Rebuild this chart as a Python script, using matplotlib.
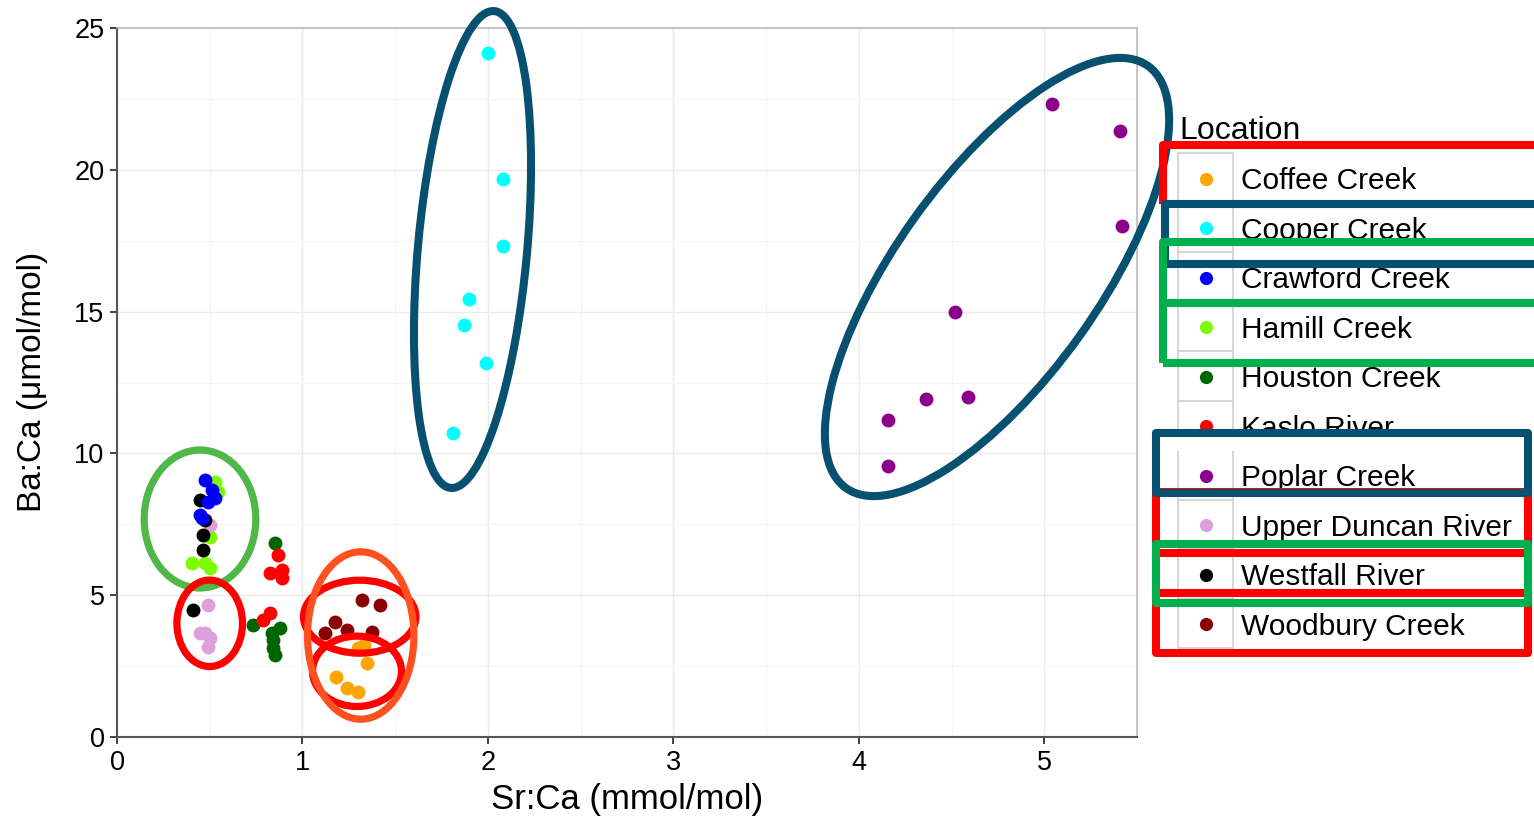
import matplotlib
matplotlib.use('Agg')
import matplotlib.pyplot as plt
from matplotlib.patches import Ellipse, Rectangle
from matplotlib.lines import Line2D
from matplotlib.transforms import IdentityTransform
from matplotlib.ticker import MultipleLocator

plt.rcParams['font.family'] = ['Liberation Sans', 'DejaVu Sans']

# ---------------- data ----------------
locations = ["Coffee Creek", "Cooper Creek", "Crawford Creek", "Hamill Creek",
             "Houston Creek", "Kaslo River", "Poplar Creek", "Upper Duncan River",
             "Westfall River", "Woodbury Creek"]
colors = ["#FFA500", "#00FFFF", "#0000FF", "#7CFC00", "#006400",
          "#FF0000", "#8B008B", "#DDA0DD", "#000000", "#8B0000"]

coffee_x = [1.33, 1.30, 1.35, 1.18, 1.24, 1.30]
coffee_y = [3.24, 3.13, 2.60, 2.13, 1.72, 1.60]
cooper_x = [2.00, 2.08, 2.08, 1.90, 1.87, 1.99, 1.81]
cooper_y = [24.12, 19.68, 17.31, 15.44, 14.53, 13.19, 10.72]
crawford_x = [0.475, 0.511, 0.529, 0.492, 0.448, 0.457]
crawford_y = [9.06, 8.71, 8.42, 8.30, 7.83, 7.71]
hamill_x = [0.529, 0.546, 0.502, 0.403, 0.475, 0.502]
hamill_y = [9.00, 8.65, 7.06, 6.12, 6.12, 5.95]
houston_x = [0.852, 0.735, 0.879, 0.834, 0.843, 0.843, 0.852]
houston_y = [6.83, 3.95, 3.83, 3.66, 3.42, 3.13, 2.89]
kaslo_x = [0.870, 0.888, 0.825, 0.888, 0.825, 0.789]
kaslo_y = [6.42, 5.89, 5.77, 5.60, 4.36, 4.13]
poplar_x = [5.04, 5.41, 5.42, 4.52, 4.36, 4.59, 4.16, 4.16]
poplar_y = [22.32, 21.37, 18.02, 14.98, 11.92, 11.99, 11.18, 9.56]
duncan_x = [0.502, 0.492, 0.475, 0.502, 0.492, 0.448]
duncan_y = [7.48, 4.65, 3.66, 3.48, 3.18, 3.67]
westfall_x = [0.448, 0.475, 0.465, 0.465, 0.412]
westfall_y = [8.36, 7.65, 7.12, 6.59, 4.48]
woodbury_x = [1.320, 1.419, 1.176, 1.122, 1.239, 1.374]
woodbury_y = [4.83, 4.65, 4.07, 3.66, 3.77, 3.71]

series = {
    "Coffee Creek": (coffee_x, coffee_y),
    "Cooper Creek": (cooper_x, cooper_y),
    "Crawford Creek": (crawford_x, crawford_y),
    "Hamill Creek": (hamill_x, hamill_y),
    "Houston Creek": (houston_x, houston_y),
    "Kaslo River": (kaslo_x, kaslo_y),
    "Poplar Creek": (poplar_x, poplar_y),
    "Upper Duncan River": (duncan_x, duncan_y),
    "Westfall River": (westfall_x, westfall_y),
    "Woodbury Creek": (woodbury_x, woodbury_y),
}
draw_order = ["Coffee Creek", "Cooper Creek", "Hamill Creek", "Upper Duncan River",
              "Westfall River", "Crawford Creek", "Houston Creek", "Kaslo River",
              "Woodbury Creek", "Poplar Creek"]

x_ticks = [0, 1, 2, 3, 4, 5]
y_ticks = [0, 5, 10, 15, 20, 25]

# ---------------- figure ----------------
W, H, DPI = 1534, 818, 100
fig = plt.figure(figsize=(W / DPI, H / DPI), dpi=DPI)
ax = fig.add_axes([117 / W, (H - 737) / H, 1020 / W, 709 / H])

cmap = dict(zip(locations, colors))
for name in draw_order:
    xs, ys = series[name]
    ax.scatter(xs, ys, s=100, color=cmap[name], linewidths=0, zorder=3)

ax.set_xlim(0, 5.5)
ax.set_ylim(0, 25)
ax.set_xticks(x_ticks)
ax.set_yticks(y_ticks)
ax.xaxis.set_minor_locator(MultipleLocator(0.5))
ax.yaxis.set_minor_locator(MultipleLocator(2.5))
ax.grid(which='major', color='#EBEBEB', linewidth=1.0, zorder=0)
ax.grid(which='minor', color='#F5F5F5', linewidth=0.8, zorder=0)
ax.set_axisbelow(True)
ax.tick_params(which='minor', length=0)
ax.tick_params(which='major', direction='out', length=5, width=1.3,
               color='#333333', labelsize=19.5, labelcolor='#000000', pad=4)
for s in ['left', 'bottom']:
    ax.spines[s].set_color('#555555')
    ax.spines[s].set_linewidth(1.5)
for s in ['top', 'right']:
    ax.spines[s].set_color('#BBBBBB')
    ax.spines[s].set_linewidth(1.2)

idt = IdentityTransform()


def P(x, y):
    return (x, H - y)


fig.text(*P(627, 800), "Sr:Ca (mmol/mol)", fontsize=25, ha='center', va='center',
         transform=idt, color='#000000')
fig.text(*P(33, 382), "Ba:Ca (μmol/mol)", fontsize=24, ha='center', va='center',
         rotation=90, transform=idt, color='#000000')

# ---------------- legend (manual, ggplot style) ----------------
fig.text(*P(1179, 139), "Location", fontsize=23, ha='left', va='baseline',
         transform=idt, zorder=3)
em = 21.5 * DPI / 72
for i, (name, col) in enumerate(zip(locations, colors)):
    top = 153 + 49.5 * i
    cy = top + 25.5
    fig.add_artist(Rectangle(P(1178, top + 49.5), 55, 49.5, transform=idt,
                             facecolor='white', edgecolor='#D3D3D3', lw=1.3, zorder=2))
    fig.add_artist(Line2D([1205.5], [H - cy], marker='o', markersize=9.5,
                          color=col, markeredgewidth=0, transform=idt, zorder=2.5))
    fig.text(*P(1241, cy + 0.358 * em), name, fontsize=21.5, ha='left', va='baseline',
             transform=idt, zorder=3)

# ---------------- annotation shapes ----------------
TEAL = '#07506F'
GREEN_R = '#00B050'
GREEN_E = '#50B848'
RED = '#FF0000'
ORANGE = '#FF5020'
LW = 5.8
LWe = 5.2

def ell(cx, cy, w, h, ang, col, lw=LWe, z=6):
    fig.add_artist(Ellipse(P(cx, cy), w, h, angle=ang, transform=idt, fill=False,
                           edgecolor=col, lw=lw, zorder=z, clip_on=False))


def rect(x0, y0, x1, y1, col, z=6, fc='none'):
    fig.add_artist(Rectangle(P(x0, y1), x1 - x0, y1 - y0, transform=idt,
                             facecolor=fc, edgecolor=col, lw=LW, zorder=z,
                             clip_on=False, joinstyle='round'))

ell(472.5, 249.5, 478.8, 109.2, 84.8, TEAL, lw=LW)
ell(997, 277, 519, 203, 54.4, TEAL, lw=LW)
ell(200, 519, 111.6, 138, 0, GREEN_E)
ell(209.7, 623.3, 65.6, 86.4, 0, RED)
ell(359.7, 616.7, 112.4, 73, 0, RED)
ell(357, 671.3, 89, 70.4, 0, RED)
ell(360.7, 635.5, 106.4, 167.4, 0, ORANGE, z=6.5)

rect(1163, 145, 1580, 204, RED, z=6)
rect(1165, 204, 1580, 264, TEAL, z=6.1)
rect(1163, 242, 1580, 302.5, GREEN_R, z=6.2)
rect(1163, 302.5, 1580, 362.5, GREEN_R, z=6.2)

# white cover hiding lower half of the Kaslo River entry
fig.add_artist(Rectangle(P(1160, 451), 368, 14, transform=idt, facecolor='white',
                         edgecolor='none', zorder=4))
rect(1156, 492, 1528, 653, RED, z=6)
rect(1156, 553, 1528, 593, RED, z=6.05)
rect(1156, 433, 1528, 493, TEAL, z=6.1)
rect(1156, 544, 1528, 603, GREEN_R, z=6.2)

fig.savefig('out.png', dpi=DPI)
